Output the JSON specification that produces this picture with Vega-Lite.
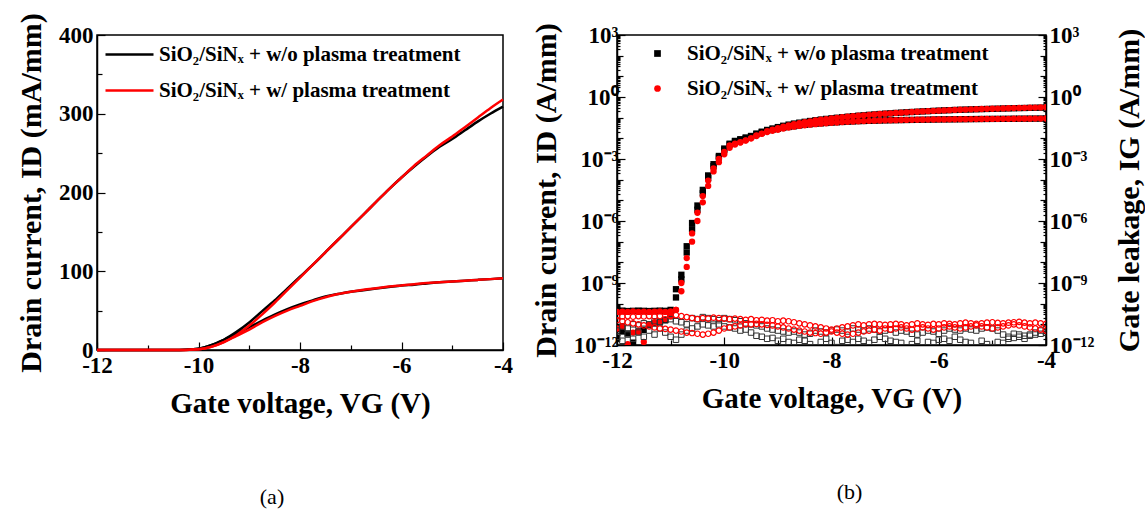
{
"$schema": "https://vega.github.io/schema/vega-lite/v6.json",
"background": "white",
"padding": {"left": 15, "top": 12, "right": 0, "bottom": 5},
"spacing": 16,
"config": {
  "font": "Liberation Serif",
  "view": {"stroke": "black", "strokeWidth": 1.5},
  "axis": {"labelFont": "Liberation Serif", "labelFontWeight": "bold", "labelFontSize": 23, "labelColor": "black", "titleFont": "Liberation Serif", "titleFontWeight": "bold", "titleFontSize": 30, "titleColor": "black", "domainColor": "black", "domainWidth": 1.5, "tickColor": "black", "tickWidth": 1.2, "grid": false, "labelFlush": false, "labelOverlap": false},
  "legend": {"labelFont": "Liberation Serif", "labelFontWeight": "bold", "labelColor": "black", "labelLimit": 500}
},
"resolve": {"scale": {"color": "independent", "shape": "independent"}, "legend": {"color": "independent", "shape": "independent"}},
"datasets": {
"a": [
{"v":-12,"s":"a","c":"H","i":0},{"v":-11,"s":"a","c":"H","i":0},{"v":-10.5,"s":"a","c":"H","i":0},{"v":-10.25,"s":"a","c":"H","i":0.3},{"v":-10,"s":"a","c":"H","i":1.5},{"v":-9.75,"s":"a","c":"H","i":6},{"v":-9.5,"s":"a","c":"H","i":13},{"v":-9.25,"s":"a","c":"H","i":23},{"v":-9,"s":"a","c":"H","i":35},{"v":-8.75,"s":"a","c":"H","i":49},{"v":-8.5,"s":"a","c":"H","i":63},{"v":-8.25,"s":"a","c":"H","i":78},{"v":-8,"s":"a","c":"H","i":93},{"v":-7.75,"s":"a","c":"H","i":108},{"v":-7.5,"s":"a","c":"H","i":124},{"v":-7.25,"s":"a","c":"H","i":140},{"v":-7,"s":"a","c":"H","i":156},{"v":-6.75,"s":"a","c":"H","i":172},{"v":-6.5,"s":"a","c":"H","i":188},{"v":-6.25,"s":"a","c":"H","i":204},{"v":-6,"s":"a","c":"H","i":219},{"v":-5.75,"s":"a","c":"H","i":233},{"v":-5.5,"s":"a","c":"H","i":246},{"v":-5.25,"s":"a","c":"H","i":258},{"v":-5,"s":"a","c":"H","i":268},{"v":-4.75,"s":"a","c":"H","i":279},{"v":-4.5,"s":"a","c":"H","i":290},{"v":-4.25,"s":"a","c":"H","i":300},{"v":-4,"s":"a","c":"H","i":309},
{"v":-12,"s":"a","c":"L","i":0},{"v":-11,"s":"a","c":"L","i":0},{"v":-10.5,"s":"a","c":"L","i":0},{"v":-10.25,"s":"a","c":"L","i":0.3},{"v":-10,"s":"a","c":"L","i":1.5},{"v":-9.75,"s":"a","c":"L","i":6},{"v":-9.5,"s":"a","c":"L","i":13},{"v":-9.25,"s":"a","c":"L","i":21},{"v":-9,"s":"a","c":"L","i":29},{"v":-8.75,"s":"a","c":"L","i":37},{"v":-8.5,"s":"a","c":"L","i":45},{"v":-8.25,"s":"a","c":"L","i":52},{"v":-8,"s":"a","c":"L","i":58},{"v":-7.75,"s":"a","c":"L","i":63},{"v":-7.5,"s":"a","c":"L","i":68},{"v":-7.25,"s":"a","c":"L","i":71},{"v":-7,"s":"a","c":"L","i":74},{"v":-6.75,"s":"a","c":"L","i":76},{"v":-6.5,"s":"a","c":"L","i":78},{"v":-6.25,"s":"a","c":"L","i":80},{"v":-6,"s":"a","c":"L","i":82},{"v":-5.75,"s":"a","c":"L","i":83},{"v":-5.5,"s":"a","c":"L","i":84.5},{"v":-5.25,"s":"a","c":"L","i":86},{"v":-5,"s":"a","c":"L","i":87},{"v":-4.75,"s":"a","c":"L","i":88},{"v":-4.5,"s":"a","c":"L","i":89},{"v":-4.25,"s":"a","c":"L","i":90},{"v":-4,"s":"a","c":"L","i":91},
{"v":-12,"s":"b","c":"H","i":0},{"v":-11,"s":"b","c":"H","i":0},{"v":-10.5,"s":"b","c":"H","i":0},{"v":-10.25,"s":"b","c":"H","i":0.1},{"v":-10,"s":"b","c":"H","i":0.8},{"v":-9.75,"s":"b","c":"H","i":4},{"v":-9.5,"s":"b","c":"H","i":10},{"v":-9.25,"s":"b","c":"H","i":19},{"v":-9,"s":"b","c":"H","i":31},{"v":-8.75,"s":"b","c":"H","i":45},{"v":-8.5,"s":"b","c":"H","i":60},{"v":-8.25,"s":"b","c":"H","i":76},{"v":-8,"s":"b","c":"H","i":92},{"v":-7.75,"s":"b","c":"H","i":108},{"v":-7.5,"s":"b","c":"H","i":124},{"v":-7.25,"s":"b","c":"H","i":140},{"v":-7,"s":"b","c":"H","i":156},{"v":-6.75,"s":"b","c":"H","i":172},{"v":-6.5,"s":"b","c":"H","i":188},{"v":-6.25,"s":"b","c":"H","i":204},{"v":-6,"s":"b","c":"H","i":219},{"v":-5.75,"s":"b","c":"H","i":234},{"v":-5.5,"s":"b","c":"H","i":247},{"v":-5.25,"s":"b","c":"H","i":260},{"v":-5,"s":"b","c":"H","i":271},{"v":-4.75,"s":"b","c":"H","i":283},{"v":-4.5,"s":"b","c":"H","i":295},{"v":-4.25,"s":"b","c":"H","i":307},{"v":-4,"s":"b","c":"H","i":318},
{"v":-12,"s":"b","c":"L","i":0},{"v":-11,"s":"b","c":"L","i":0},{"v":-10.5,"s":"b","c":"L","i":0},{"v":-10.25,"s":"b","c":"L","i":0.1},{"v":-10,"s":"b","c":"L","i":0.8},{"v":-9.75,"s":"b","c":"L","i":4},{"v":-9.5,"s":"b","c":"L","i":10},{"v":-9.25,"s":"b","c":"L","i":18},{"v":-9,"s":"b","c":"L","i":26},{"v":-8.75,"s":"b","c":"L","i":35},{"v":-8.5,"s":"b","c":"L","i":43},{"v":-8.25,"s":"b","c":"L","i":50},{"v":-8,"s":"b","c":"L","i":56},{"v":-7.75,"s":"b","c":"L","i":62},{"v":-7.5,"s":"b","c":"L","i":67},{"v":-7.25,"s":"b","c":"L","i":71},{"v":-7,"s":"b","c":"L","i":74},{"v":-6.75,"s":"b","c":"L","i":76.5},{"v":-6.5,"s":"b","c":"L","i":78.5},{"v":-6.25,"s":"b","c":"L","i":80.5},{"v":-6,"s":"b","c":"L","i":82},{"v":-5.75,"s":"b","c":"L","i":83.5},{"v":-5.5,"s":"b","c":"L","i":85},{"v":-5.25,"s":"b","c":"L","i":86},{"v":-5,"s":"b","c":"L","i":87},{"v":-4.75,"s":"b","c":"L","i":88},{"v":-4.5,"s":"b","c":"L","i":89},{"v":-4.25,"s":"b","c":"L","i":90},{"v":-4,"s":"b","c":"L","i":91}
],
"b": [
{"v":-12,"s":"a","c":"H","i":4.5e-11},{"v":-11.9,"s":"a","c":"H","i":4.6e-11},{"v":-11.8,"s":"a","c":"H","i":4.4e-11},{"v":-11.7,"s":"a","c":"H","i":4.5e-11},{"v":-11.6,"s":"a","c":"H","i":4.6e-11},{"v":-11.5,"s":"a","c":"H","i":4.5e-11},{"v":-11.4,"s":"a","c":"H","i":4.4e-11},{"v":-11.3,"s":"a","c":"H","i":4.5e-11},{"v":-11.2,"s":"a","c":"H","i":4.6e-11},{"v":-11.1,"s":"a","c":"H","i":4.5e-11},{"v":-11,"s":"a","c":"H","i":5e-11},{"v":-10.9,"s":"a","c":"H","i":5e-10},{"v":-10.8,"s":"a","c":"H","i":2.5e-9},{"v":-10.7,"s":"a","c":"H","i":6e-8},{"v":-10.6,"s":"a","c":"H","i":8e-7},{"v":-10.5,"s":"a","c":"H","i":5.6e-6},{"v":-10.4,"s":"a","c":"H","i":3.2e-5},{"v":-10.3,"s":"a","c":"H","i":1.6e-4},{"v":-10.2,"s":"a","c":"H","i":5.6e-4},{"v":-10.1,"s":"a","c":"H","i":1.4e-3},{"v":-10,"s":"a","c":"H","i":3.2e-3},{"v":-9.9,"s":"a","c":"H","i":5.5e-3},{"v":-9.8,"s":"a","c":"H","i":7.5e-3},{"v":-9.7,"s":"a","c":"H","i":9e-3},{"v":-9.6,"s":"a","c":"H","i":0.011},{"v":-9.5,"s":"a","c":"H","i":0.013},{"v":-9.4,"s":"a","c":"H","i":0.017},{"v":-9.3,"s":"a","c":"H","i":0.021},{"v":-9.2,"s":"a","c":"H","i":0.0255},{"v":-9.1,"s":"a","c":"H","i":0.03},{"v":-9,"s":"a","c":"H","i":0.035},{"v":-8.9,"s":"a","c":"H","i":0.0406},{"v":-8.8,"s":"a","c":"H","i":0.0462},{"v":-8.7,"s":"a","c":"H","i":0.0518},{"v":-8.6,"s":"a","c":"H","i":0.0574},{"v":-8.5,"s":"a","c":"H","i":0.063},{"v":-8.4,"s":"a","c":"H","i":0.069},{"v":-8.3,"s":"a","c":"H","i":0.075},{"v":-8.2,"s":"a","c":"H","i":0.081},{"v":-8.1,"s":"a","c":"H","i":0.087},{"v":-8,"s":"a","c":"H","i":0.093},{"v":-7.9,"s":"a","c":"H","i":0.099},{"v":-7.8,"s":"a","c":"H","i":0.105},{"v":-7.7,"s":"a","c":"H","i":0.111},{"v":-7.6,"s":"a","c":"H","i":0.118},{"v":-7.5,"s":"a","c":"H","i":0.124},{"v":-7.4,"s":"a","c":"H","i":0.13},{"v":-7.3,"s":"a","c":"H","i":0.137},{"v":-7.2,"s":"a","c":"H","i":0.143},{"v":-7.1,"s":"a","c":"H","i":0.15},{"v":-7,"s":"a","c":"H","i":0.156},{"v":-6.9,"s":"a","c":"H","i":0.162},{"v":-6.8,"s":"a","c":"H","i":0.169},{"v":-6.7,"s":"a","c":"H","i":0.175},{"v":-6.6,"s":"a","c":"H","i":0.182},{"v":-6.5,"s":"a","c":"H","i":0.188},{"v":-6.4,"s":"a","c":"H","i":0.194},{"v":-6.3,"s":"a","c":"H","i":0.201},{"v":-6.2,"s":"a","c":"H","i":0.207},{"v":-6.1,"s":"a","c":"H","i":0.213},{"v":-6,"s":"a","c":"H","i":0.219},{"v":-5.9,"s":"a","c":"H","i":0.225},{"v":-5.8,"s":"a","c":"H","i":0.23},{"v":-5.7,"s":"a","c":"H","i":0.236},{"v":-5.6,"s":"a","c":"H","i":0.241},{"v":-5.5,"s":"a","c":"H","i":0.246},{"v":-5.4,"s":"a","c":"H","i":0.251},{"v":-5.3,"s":"a","c":"H","i":0.256},{"v":-5.2,"s":"a","c":"H","i":0.26},{"v":-5.1,"s":"a","c":"H","i":0.264},{"v":-5,"s":"a","c":"H","i":0.268},{"v":-4.9,"s":"a","c":"H","i":0.272},{"v":-4.8,"s":"a","c":"H","i":0.277},{"v":-4.7,"s":"a","c":"H","i":0.281},{"v":-4.6,"s":"a","c":"H","i":0.286},{"v":-4.5,"s":"a","c":"H","i":0.29},{"v":-4.4,"s":"a","c":"H","i":0.294},{"v":-4.3,"s":"a","c":"H","i":0.298},{"v":-4.2,"s":"a","c":"H","i":0.302},{"v":-4.1,"s":"a","c":"H","i":0.305},{"v":-4,"s":"a","c":"H","i":0.309},
{"v":-12,"s":"a","c":"L","i":2e-12},{"v":-11.9,"s":"a","c":"L","i":4.5e-12},{"v":-11.8,"s":"a","c":"L","i":3.6e-12},{"v":-11.7,"s":"a","c":"L","i":1.3e-12},{"v":-11.6,"s":"a","c":"L","i":4.5e-12},{"v":-11.5,"s":"a","c":"L","i":5.4e-12},{"v":-11.4,"s":"a","c":"L","i":9.3e-12},{"v":-11.3,"s":"a","c":"L","i":1.1e-11},{"v":-11.2,"s":"a","c":"L","i":1.35e-11},{"v":-11.1,"s":"a","c":"L","i":1.6e-11},{"v":-11,"s":"a","c":"L","i":2.5e-11},{"v":-10.9,"s":"a","c":"L","i":2e-10},{"v":-10.8,"s":"a","c":"L","i":1.5e-9},{"v":-10.7,"s":"a","c":"L","i":3e-8},{"v":-10.6,"s":"a","c":"L","i":4e-7},{"v":-10.5,"s":"a","c":"L","i":3.5e-6},{"v":-10.4,"s":"a","c":"L","i":2.2e-5},{"v":-10.3,"s":"a","c":"L","i":1.2e-4},{"v":-10.2,"s":"a","c":"L","i":4.5e-4},{"v":-10.1,"s":"a","c":"L","i":1.2e-3},{"v":-10,"s":"a","c":"L","i":2.7e-3},{"v":-9.9,"s":"a","c":"L","i":5e-3},{"v":-9.8,"s":"a","c":"L","i":7e-3},{"v":-9.7,"s":"a","c":"L","i":8.5e-3},{"v":-9.6,"s":"a","c":"L","i":0.01},{"v":-9.5,"s":"a","c":"L","i":0.0125},{"v":-9.4,"s":"a","c":"L","i":0.016},{"v":-9.3,"s":"a","c":"L","i":0.0195},{"v":-9.2,"s":"a","c":"L","i":0.023},{"v":-9.1,"s":"a","c":"L","i":0.026},{"v":-9,"s":"a","c":"L","i":0.029},{"v":-8.9,"s":"a","c":"L","i":0.032},{"v":-8.8,"s":"a","c":"L","i":0.0355},{"v":-8.7,"s":"a","c":"L","i":0.0385},{"v":-8.6,"s":"a","c":"L","i":0.042},{"v":-8.5,"s":"a","c":"L","i":0.045},{"v":-8.4,"s":"a","c":"L","i":0.048},{"v":-8.3,"s":"a","c":"L","i":0.0505},{"v":-8.2,"s":"a","c":"L","i":0.053},{"v":-8.1,"s":"a","c":"L","i":0.0555},{"v":-8,"s":"a","c":"L","i":0.058},{"v":-7.9,"s":"a","c":"L","i":0.06},{"v":-7.8,"s":"a","c":"L","i":0.062},{"v":-7.7,"s":"a","c":"L","i":0.064},{"v":-7.6,"s":"a","c":"L","i":0.066},{"v":-7.5,"s":"a","c":"L","i":0.068},{"v":-7.4,"s":"a","c":"L","i":0.069},{"v":-7.3,"s":"a","c":"L","i":0.0705},{"v":-7.2,"s":"a","c":"L","i":0.0715},{"v":-7.1,"s":"a","c":"L","i":0.073},{"v":-7,"s":"a","c":"L","i":0.074},{"v":-6.9,"s":"a","c":"L","i":0.075},{"v":-6.8,"s":"a","c":"L","i":0.0757},{"v":-6.7,"s":"a","c":"L","i":0.0765},{"v":-6.6,"s":"a","c":"L","i":0.0772},{"v":-6.5,"s":"a","c":"L","i":0.078},{"v":-6.4,"s":"a","c":"L","i":0.0788},{"v":-6.3,"s":"a","c":"L","i":0.0796},{"v":-6.2,"s":"a","c":"L","i":0.0804},{"v":-6.1,"s":"a","c":"L","i":0.0812},{"v":-6,"s":"a","c":"L","i":0.082},{"v":-5.9,"s":"a","c":"L","i":0.0824},{"v":-5.8,"s":"a","c":"L","i":0.0828},{"v":-5.7,"s":"a","c":"L","i":0.0833},{"v":-5.6,"s":"a","c":"L","i":0.0839},{"v":-5.5,"s":"a","c":"L","i":0.0845},{"v":-5.4,"s":"a","c":"L","i":0.0851},{"v":-5.3,"s":"a","c":"L","i":0.0857},{"v":-5.2,"s":"a","c":"L","i":0.0862},{"v":-5.1,"s":"a","c":"L","i":0.0866},{"v":-5,"s":"a","c":"L","i":0.087},{"v":-4.9,"s":"a","c":"L","i":0.0874},{"v":-4.8,"s":"a","c":"L","i":0.0878},{"v":-4.7,"s":"a","c":"L","i":0.0882},{"v":-4.6,"s":"a","c":"L","i":0.0886},{"v":-4.5,"s":"a","c":"L","i":0.089},{"v":-4.4,"s":"a","c":"L","i":0.0894},{"v":-4.3,"s":"a","c":"L","i":0.0898},{"v":-4.2,"s":"a","c":"L","i":0.0902},{"v":-4.1,"s":"a","c":"L","i":0.0906},{"v":-4,"s":"a","c":"L","i":0.091},
{"v":-12,"s":"b","c":"H","i":4e-11},{"v":-11.9,"s":"b","c":"H","i":4.1e-11},{"v":-11.8,"s":"b","c":"H","i":4e-11},{"v":-11.7,"s":"b","c":"H","i":4.2e-11},{"v":-11.6,"s":"b","c":"H","i":4e-11},{"v":-11.5,"s":"b","c":"H","i":4.1e-11},{"v":-11.4,"s":"b","c":"H","i":4e-11},{"v":-11.3,"s":"b","c":"H","i":4.1e-11},{"v":-11.2,"s":"b","c":"H","i":4.2e-11},{"v":-11.1,"s":"b","c":"H","i":4e-11},{"v":-11,"s":"b","c":"H","i":4.2e-11},{"v":-10.9,"s":"b","c":"H","i":5e-11},{"v":-10.8,"s":"b","c":"H","i":1e-9},{"v":-10.7,"s":"b","c":"H","i":1.6e-8},{"v":-10.6,"s":"b","c":"H","i":2.5e-7},{"v":-10.5,"s":"b","c":"H","i":2.5e-6},{"v":-10.4,"s":"b","c":"H","i":1.6e-5},{"v":-10.3,"s":"b","c":"H","i":9e-5},{"v":-10.2,"s":"b","c":"H","i":3.5e-4},{"v":-10.1,"s":"b","c":"H","i":1e-3},{"v":-10,"s":"b","c":"H","i":2.2e-3},{"v":-9.9,"s":"b","c":"H","i":4.5e-3},{"v":-9.8,"s":"b","c":"H","i":5.5e-3},{"v":-9.7,"s":"b","c":"H","i":6.5e-3},{"v":-9.6,"s":"b","c":"H","i":8e-3},{"v":-9.5,"s":"b","c":"H","i":0.01},{"v":-9.4,"s":"b","c":"H","i":0.014},{"v":-9.3,"s":"b","c":"H","i":0.017},{"v":-9.2,"s":"b","c":"H","i":0.022},{"v":-9.1,"s":"b","c":"H","i":0.026},{"v":-9,"s":"b","c":"H","i":0.031},{"v":-8.9,"s":"b","c":"H","i":0.0366},{"v":-8.8,"s":"b","c":"H","i":0.0422},{"v":-8.7,"s":"b","c":"H","i":0.048},{"v":-8.6,"s":"b","c":"H","i":0.054},{"v":-8.5,"s":"b","c":"H","i":0.06},{"v":-8.4,"s":"b","c":"H","i":0.0664},{"v":-8.3,"s":"b","c":"H","i":0.0728},{"v":-8.2,"s":"b","c":"H","i":0.0792},{"v":-8.1,"s":"b","c":"H","i":0.0856},{"v":-8,"s":"b","c":"H","i":0.092},{"v":-7.9,"s":"b","c":"H","i":0.0984},{"v":-7.8,"s":"b","c":"H","i":0.1048},{"v":-7.7,"s":"b","c":"H","i":0.1112},{"v":-7.6,"s":"b","c":"H","i":0.1176},{"v":-7.5,"s":"b","c":"H","i":0.124},{"v":-7.4,"s":"b","c":"H","i":0.13},{"v":-7.3,"s":"b","c":"H","i":0.137},{"v":-7.2,"s":"b","c":"H","i":0.143},{"v":-7.1,"s":"b","c":"H","i":0.15},{"v":-7,"s":"b","c":"H","i":0.156},{"v":-6.9,"s":"b","c":"H","i":0.162},{"v":-6.8,"s":"b","c":"H","i":0.169},{"v":-6.7,"s":"b","c":"H","i":0.175},{"v":-6.6,"s":"b","c":"H","i":0.182},{"v":-6.5,"s":"b","c":"H","i":0.188},{"v":-6.4,"s":"b","c":"H","i":0.194},{"v":-6.3,"s":"b","c":"H","i":0.201},{"v":-6.2,"s":"b","c":"H","i":0.207},{"v":-6.1,"s":"b","c":"H","i":0.213},{"v":-6,"s":"b","c":"H","i":0.219},{"v":-5.9,"s":"b","c":"H","i":0.225},{"v":-5.8,"s":"b","c":"H","i":0.231},{"v":-5.7,"s":"b","c":"H","i":0.2366},{"v":-5.6,"s":"b","c":"H","i":0.2418},{"v":-5.5,"s":"b","c":"H","i":0.247},{"v":-5.4,"s":"b","c":"H","i":0.2522},{"v":-5.3,"s":"b","c":"H","i":0.2574},{"v":-5.2,"s":"b","c":"H","i":0.2622},{"v":-5.1,"s":"b","c":"H","i":0.2666},{"v":-5,"s":"b","c":"H","i":0.271},{"v":-4.9,"s":"b","c":"H","i":0.2758},{"v":-4.8,"s":"b","c":"H","i":0.2806},{"v":-4.7,"s":"b","c":"H","i":0.2854},{"v":-4.6,"s":"b","c":"H","i":0.2902},{"v":-4.5,"s":"b","c":"H","i":0.295},{"v":-4.4,"s":"b","c":"H","i":0.2998},{"v":-4.3,"s":"b","c":"H","i":0.3046},{"v":-4.2,"s":"b","c":"H","i":0.309},{"v":-4.1,"s":"b","c":"H","i":0.3134},{"v":-4,"s":"b","c":"H","i":0.318},
{"v":-12,"s":"b","c":"L","i":6.3e-12},{"v":-11.9,"s":"b","c":"L","i":7.9e-12},{"v":-11.8,"s":"b","c":"L","i":1.1e-12},{"v":-11.7,"s":"b","c":"L","i":4e-12},{"v":-11.6,"s":"b","c":"L","i":4.5e-12},{"v":-11.5,"s":"b","c":"L","i":1.4e-12},{"v":-11.4,"s":"b","c":"L","i":1e-11},{"v":-11.3,"s":"b","c":"L","i":1.26e-11},{"v":-11.2,"s":"b","c":"L","i":1.4e-11},{"v":-11.1,"s":"b","c":"L","i":1.8e-11},{"v":-11,"s":"b","c":"L","i":2.5e-11},{"v":-10.9,"s":"b","c":"L","i":5e-11},{"v":-10.8,"s":"b","c":"L","i":4e-10},{"v":-10.7,"s":"b","c":"L","i":6e-9},{"v":-10.6,"s":"b","c":"L","i":1e-7},{"v":-10.5,"s":"b","c":"L","i":1e-6},{"v":-10.4,"s":"b","c":"L","i":8e-6},{"v":-10.3,"s":"b","c":"L","i":5e-5},{"v":-10.2,"s":"b","c":"L","i":2.5e-4},{"v":-10.1,"s":"b","c":"L","i":7e-4},{"v":-10,"s":"b","c":"L","i":1.7e-3},{"v":-9.9,"s":"b","c":"L","i":3.5e-3},{"v":-9.8,"s":"b","c":"L","i":5e-3},{"v":-9.7,"s":"b","c":"L","i":6.2e-3},{"v":-9.6,"s":"b","c":"L","i":7.8e-3},{"v":-9.5,"s":"b","c":"L","i":0.01},{"v":-9.4,"s":"b","c":"L","i":0.013},{"v":-9.3,"s":"b","c":"L","i":0.0165},{"v":-9.2,"s":"b","c":"L","i":0.02},{"v":-9.1,"s":"b","c":"L","i":0.023},{"v":-9,"s":"b","c":"L","i":0.026},{"v":-8.9,"s":"b","c":"L","i":0.0295},{"v":-8.8,"s":"b","c":"L","i":0.033},{"v":-8.7,"s":"b","c":"L","i":0.0365},{"v":-8.6,"s":"b","c":"L","i":0.04},{"v":-8.5,"s":"b","c":"L","i":0.043},{"v":-8.4,"s":"b","c":"L","i":0.046},{"v":-8.3,"s":"b","c":"L","i":0.0485},{"v":-8.2,"s":"b","c":"L","i":0.051},{"v":-8.1,"s":"b","c":"L","i":0.0535},{"v":-8,"s":"b","c":"L","i":0.056},{"v":-7.9,"s":"b","c":"L","i":0.0585},{"v":-7.8,"s":"b","c":"L","i":0.061},{"v":-7.7,"s":"b","c":"L","i":0.063},{"v":-7.6,"s":"b","c":"L","i":0.065},{"v":-7.5,"s":"b","c":"L","i":0.067},{"v":-7.4,"s":"b","c":"L","i":0.0685},{"v":-7.3,"s":"b","c":"L","i":0.07},{"v":-7.2,"s":"b","c":"L","i":0.0715},{"v":-7.1,"s":"b","c":"L","i":0.0728},{"v":-7,"s":"b","c":"L","i":0.074},{"v":-6.9,"s":"b","c":"L","i":0.075},{"v":-6.8,"s":"b","c":"L","i":0.076},{"v":-6.7,"s":"b","c":"L","i":0.077},{"v":-6.6,"s":"b","c":"L","i":0.0777},{"v":-6.5,"s":"b","c":"L","i":0.0785},{"v":-6.4,"s":"b","c":"L","i":0.0793},{"v":-6.3,"s":"b","c":"L","i":0.08},{"v":-6.2,"s":"b","c":"L","i":0.0808},{"v":-6.1,"s":"b","c":"L","i":0.0814},{"v":-6,"s":"b","c":"L","i":0.082},{"v":-5.9,"s":"b","c":"L","i":0.0826},{"v":-5.8,"s":"b","c":"L","i":0.0832},{"v":-5.7,"s":"b","c":"L","i":0.0838},{"v":-5.6,"s":"b","c":"L","i":0.0844},{"v":-5.5,"s":"b","c":"L","i":0.085},{"v":-5.4,"s":"b","c":"L","i":0.0854},{"v":-5.3,"s":"b","c":"L","i":0.0858},{"v":-5.2,"s":"b","c":"L","i":0.0862},{"v":-5.1,"s":"b","c":"L","i":0.0866},{"v":-5,"s":"b","c":"L","i":0.087},{"v":-4.9,"s":"b","c":"L","i":0.0874},{"v":-4.8,"s":"b","c":"L","i":0.0878},{"v":-4.7,"s":"b","c":"L","i":0.0882},{"v":-4.6,"s":"b","c":"L","i":0.0886},{"v":-4.5,"s":"b","c":"L","i":0.089},{"v":-4.4,"s":"b","c":"L","i":0.0894},{"v":-4.3,"s":"b","c":"L","i":0.0898},{"v":-4.2,"s":"b","c":"L","i":0.0902},{"v":-4.1,"s":"b","c":"L","i":0.0906},{"v":-4,"s":"b","c":"L","i":0.091}
],
"g": [
{"v":-12,"s":"a","c":"H","g":5e-12},{"v":-11.9,"s":"a","c":"H","g":7.9e-12},{"v":-11.8,"s":"a","c":"H","g":6.3e-12},{"v":-11.7,"s":"a","c":"H","g":1e-11},{"v":-11.6,"s":"a","c":"H","g":8.9e-12},{"v":-11.5,"s":"a","c":"H","g":1.12e-11},{"v":-11.4,"s":"a","c":"H","g":1e-11},{"v":-11.3,"s":"a","c":"H","g":1.41e-11},{"v":-11.2,"s":"a","c":"H","g":1.26e-11},{"v":-11.1,"s":"a","c":"H","g":1.58e-11},{"v":-11,"s":"a","c":"H","g":1.78e-11},{"v":-10.9,"s":"a","c":"H","g":1.41e-11},{"v":-10.8,"s":"a","c":"H","g":1.26e-11},{"v":-10.7,"s":"a","c":"H","g":1e-11},{"v":-10.6,"s":"a","c":"H","g":2e-11},{"v":-10.5,"s":"a","c":"H","g":1.78e-11},{"v":-10.4,"s":"a","c":"H","g":2.24e-11},{"v":-10.3,"s":"a","c":"H","g":2e-11},{"v":-10.2,"s":"a","c":"H","g":1.78e-11},{"v":-10.1,"s":"a","c":"H","g":1.58e-11},{"v":-10,"s":"a","c":"H","g":2e-11},{"v":-9.9,"s":"a","c":"H","g":1.78e-11},{"v":-9.8,"s":"a","c":"H","g":1.58e-11},{"v":-9.7,"s":"a","c":"H","g":1.41e-11},{"v":-9.6,"s":"a","c":"H","g":1.12e-11},{"v":-9.5,"s":"a","c":"H","g":1e-11},{"v":-9.4,"s":"a","c":"H","g":8.9e-12},{"v":-9.3,"s":"a","c":"H","g":7.9e-12},{"v":-9.2,"s":"a","c":"H","g":6.3e-12},{"v":-9.1,"s":"a","c":"H","g":5.6e-12},{"v":-9,"s":"a","c":"H","g":5e-12},{"v":-8.9,"s":"a","c":"H","g":4.5e-12},{"v":-8.8,"s":"a","c":"H","g":4e-12},{"v":-8.7,"s":"a","c":"H","g":4.5e-12},{"v":-8.6,"s":"a","c":"H","g":4e-12},{"v":-8.5,"s":"a","c":"H","g":3.2e-12},{"v":-8.4,"s":"a","c":"H","g":3.5e-12},{"v":-8.3,"s":"a","c":"H","g":5e-12},{"v":-8.2,"s":"a","c":"H","g":4.5e-12},{"v":-8.1,"s":"a","c":"H","g":4e-12},{"v":-8,"s":"a","c":"H","g":5e-12},{"v":-7.9,"s":"a","c":"H","g":5.6e-12},{"v":-7.8,"s":"a","c":"H","g":5e-12},{"v":-7.7,"s":"a","c":"H","g":4.5e-12},{"v":-7.6,"s":"a","c":"H","g":6.3e-12},{"v":-7.5,"s":"a","c":"H","g":5.6e-12},{"v":-7.4,"s":"a","c":"H","g":5e-12},{"v":-7.3,"s":"a","c":"H","g":6.3e-12},{"v":-7.2,"s":"a","c":"H","g":5.6e-12},{"v":-7.1,"s":"a","c":"H","g":4.5e-12},{"v":-7,"s":"a","c":"H","g":5e-12},{"v":-6.9,"s":"a","c":"H","g":5.6e-12},{"v":-6.8,"s":"a","c":"H","g":4e-12},{"v":-6.7,"s":"a","c":"H","g":5e-12},{"v":-6.6,"s":"a","c":"H","g":4.5e-12},{"v":-6.5,"s":"a","c":"H","g":3.5e-12},{"v":-6.4,"s":"a","c":"H","g":3.2e-12},{"v":-6.3,"s":"a","c":"H","g":4e-12},{"v":-6.2,"s":"a","c":"H","g":5e-12},{"v":-6.1,"s":"a","c":"H","g":4.5e-12},{"v":-6,"s":"a","c":"H","g":3.5e-12},{"v":-5.9,"s":"a","c":"H","g":5e-12},{"v":-5.8,"s":"a","c":"H","g":6.3e-12},{"v":-5.7,"s":"a","c":"H","g":5.6e-12},{"v":-5.6,"s":"a","c":"H","g":5e-12},{"v":-5.5,"s":"a","c":"H","g":6.3e-12},{"v":-5.4,"s":"a","c":"H","g":5.6e-12},{"v":-5.3,"s":"a","c":"H","g":5e-12},{"v":-5.2,"s":"a","c":"H","g":6.3e-12},{"v":-5.1,"s":"a","c":"H","g":7.1e-12},{"v":-5,"s":"a","c":"H","g":6.3e-12},{"v":-4.9,"s":"a","c":"H","g":5e-12},{"v":-4.8,"s":"a","c":"H","g":3.2e-12},{"v":-4.7,"s":"a","c":"H","g":2.5e-12},{"v":-4.6,"s":"a","c":"H","g":3.5e-12},{"v":-4.5,"s":"a","c":"H","g":3.2e-12},{"v":-4.4,"s":"a","c":"H","g":2.8e-12},{"v":-4.3,"s":"a","c":"H","g":3.2e-12},{"v":-4.2,"s":"a","c":"H","g":4e-12},{"v":-4.1,"s":"a","c":"H","g":5e-12},{"v":-4,"s":"a","c":"H","g":6.3e-12},
{"v":-12,"s":"a","c":"L","g":2.5e-12},{"v":-11.9,"s":"a","c":"L","g":1.6e-12},{"v":-11.8,"s":"a","c":"L","g":3.2e-12},{"v":-11.7,"s":"a","c":"L","g":2e-12},{"v":-11.6,"s":"a","c":"L","g":4e-12},{"v":-11.5,"s":"a","c":"L","g":2.5e-12},{"v":-11.4,"s":"a","c":"L","g":5e-12},{"v":-11.3,"s":"a","c":"L","g":3.2e-12},{"v":-11.2,"s":"a","c":"L","g":6.3e-12},{"v":-11.1,"s":"a","c":"L","g":4e-12},{"v":-11,"s":"a","c":"L","g":2.5e-12},{"v":-10.9,"s":"a","c":"L","g":1.8e-12},{"v":-10.8,"s":"a","c":"L","g":3.2e-12},{"v":-10.7,"s":"a","c":"L","g":5e-12},{"v":-10.6,"s":"a","c":"L","g":6.3e-12},{"v":-10.5,"s":"a","c":"L","g":7.9e-12},{"v":-10.4,"s":"a","c":"L","g":1e-11},{"v":-10.3,"s":"a","c":"L","g":8.9e-12},{"v":-10.2,"s":"a","c":"L","g":7.9e-12},{"v":-10.1,"s":"a","c":"L","g":1e-11},{"v":-10,"s":"a","c":"L","g":7.9e-12},{"v":-9.9,"s":"a","c":"L","g":7.1e-12},{"v":-9.8,"s":"a","c":"L","g":6.3e-12},{"v":-9.7,"s":"a","c":"L","g":5e-12},{"v":-9.6,"s":"a","c":"L","g":5.6e-12},{"v":-9.5,"s":"a","c":"L","g":4e-12},{"v":-9.4,"s":"a","c":"L","g":2.8e-12},{"v":-9.3,"s":"a","c":"L","g":2.5e-12},{"v":-9.2,"s":"a","c":"L","g":2e-12},{"v":-9.1,"s":"a","c":"L","g":2.2e-12},{"v":-9,"s":"a","c":"L","g":1.6e-12},{"v":-8.9,"s":"a","c":"L","g":2e-12},{"v":-8.8,"s":"a","c":"L","g":1.4e-12},{"v":-8.7,"s":"a","c":"L","g":1.26e-12},{"v":-8.6,"s":"a","c":"L","g":1.8e-12},{"v":-8.5,"s":"a","c":"L","g":1.6e-12},{"v":-8.4,"s":"a","c":"L","g":1.1e-12},{"v":-8.3,"s":"a","c":"L","g":6.3e-13},{"v":-8.2,"s":"a","c":"L","g":1.4e-12},{"v":-8.1,"s":"a","c":"L","g":2e-12},{"v":-8,"s":"a","c":"L","g":1.26e-12},{"v":-7.9,"s":"a","c":"L","g":7.9e-13},{"v":-7.8,"s":"a","c":"L","g":1.6e-12},{"v":-7.7,"s":"a","c":"L","g":1.8e-12},{"v":-7.6,"s":"a","c":"L","g":1.4e-12},{"v":-7.5,"s":"a","c":"L","g":2e-12},{"v":-7.4,"s":"a","c":"L","g":1.6e-12},{"v":-7.3,"s":"a","c":"L","g":1.26e-12},{"v":-7.2,"s":"a","c":"L","g":1.8e-12},{"v":-7.1,"s":"a","c":"L","g":2.5e-12},{"v":-7,"s":"a","c":"L","g":2e-12},{"v":-6.9,"s":"a","c":"L","g":1.6e-12},{"v":-6.8,"s":"a","c":"L","g":1.4e-12},{"v":-6.7,"s":"a","c":"L","g":1.26e-12},{"v":-6.6,"s":"a","c":"L","g":7.1e-13},{"v":-6.5,"s":"a","c":"L","g":1.1e-12},{"v":-6.4,"s":"a","c":"L","g":1.6e-12},{"v":-6.3,"s":"a","c":"L","g":5e-13},{"v":-6.2,"s":"a","c":"L","g":1.4e-12},{"v":-6.1,"s":"a","c":"L","g":1.26e-12},{"v":-6,"s":"a","c":"L","g":1.8e-12},{"v":-5.9,"s":"a","c":"L","g":2e-12},{"v":-5.8,"s":"a","c":"L","g":1.6e-12},{"v":-5.7,"s":"a","c":"L","g":2.5e-12},{"v":-5.6,"s":"a","c":"L","g":1.8e-12},{"v":-5.5,"s":"a","c":"L","g":1.4e-12},{"v":-5.4,"s":"a","c":"L","g":1.26e-12},{"v":-5.3,"s":"a","c":"L","g":6.3e-13},{"v":-5.2,"s":"a","c":"L","g":1.6e-12},{"v":-5.1,"s":"a","c":"L","g":1.1e-12},{"v":-5,"s":"a","c":"L","g":7.9e-13},{"v":-4.9,"s":"a","c":"L","g":1.4e-12},{"v":-4.8,"s":"a","c":"L","g":1.26e-12},{"v":-4.7,"s":"a","c":"L","g":2e-12},{"v":-4.6,"s":"a","c":"L","g":2.2e-12},{"v":-4.5,"s":"a","c":"L","g":2.5e-12},{"v":-4.4,"s":"a","c":"L","g":2e-12},{"v":-4.3,"s":"a","c":"L","g":2.8e-12},{"v":-4.2,"s":"a","c":"L","g":3.2e-12},{"v":-4.1,"s":"a","c":"L","g":3.5e-12},{"v":-4,"s":"a","c":"L","g":4e-12},
{"v":-12,"s":"b","c":"H","g":2.5e-11},{"v":-11.9,"s":"b","c":"H","g":2.4e-11},{"v":-11.8,"s":"b","c":"H","g":2.5e-11},{"v":-11.7,"s":"b","c":"H","g":2.35e-11},{"v":-11.6,"s":"b","c":"H","g":2.5e-11},{"v":-11.5,"s":"b","c":"H","g":2.4e-11},{"v":-11.4,"s":"b","c":"H","g":2.5e-11},{"v":-11.3,"s":"b","c":"H","g":2.4e-11},{"v":-11.2,"s":"b","c":"H","g":2.5e-11},{"v":-11.1,"s":"b","c":"H","g":2.6e-11},{"v":-11,"s":"b","c":"H","g":2.5e-11},{"v":-10.9,"s":"b","c":"H","g":2.8e-11},{"v":-10.8,"s":"b","c":"H","g":2.5e-11},{"v":-10.7,"s":"b","c":"H","g":2.24e-11},{"v":-10.6,"s":"b","c":"H","g":2e-11},{"v":-10.5,"s":"b","c":"H","g":1.78e-11},{"v":-10.4,"s":"b","c":"H","g":2e-11},{"v":-10.3,"s":"b","c":"H","g":1.9e-11},{"v":-10.2,"s":"b","c":"H","g":2.1e-11},{"v":-10.1,"s":"b","c":"H","g":2e-11},{"v":-10,"s":"b","c":"H","g":1.9e-11},{"v":-9.9,"s":"b","c":"H","g":1.78e-11},{"v":-9.8,"s":"b","c":"H","g":1.9e-11},{"v":-9.7,"s":"b","c":"H","g":1.78e-11},{"v":-9.6,"s":"b","c":"H","g":1.66e-11},{"v":-9.5,"s":"b","c":"H","g":1.78e-11},{"v":-9.4,"s":"b","c":"H","g":1.58e-11},{"v":-9.3,"s":"b","c":"H","g":1.66e-11},{"v":-9.2,"s":"b","c":"H","g":1.5e-11},{"v":-9.1,"s":"b","c":"H","g":1.58e-11},{"v":-9,"s":"b","c":"H","g":1.41e-11},{"v":-8.9,"s":"b","c":"H","g":1.5e-11},{"v":-8.8,"s":"b","c":"H","g":1.41e-11},{"v":-8.7,"s":"b","c":"H","g":1.26e-11},{"v":-8.6,"s":"b","c":"H","g":1.12e-11},{"v":-8.5,"s":"b","c":"H","g":1e-11},{"v":-8.4,"s":"b","c":"H","g":8.9e-12},{"v":-8.3,"s":"b","c":"H","g":7.9e-12},{"v":-8.2,"s":"b","c":"H","g":7.1e-12},{"v":-8.1,"s":"b","c":"H","g":6.3e-12},{"v":-8,"s":"b","c":"H","g":5.6e-12},{"v":-7.9,"s":"b","c":"H","g":6.3e-12},{"v":-7.8,"s":"b","c":"H","g":7.1e-12},{"v":-7.7,"s":"b","c":"H","g":7.9e-12},{"v":-7.6,"s":"b","c":"H","g":8.9e-12},{"v":-7.5,"s":"b","c":"H","g":1e-11},{"v":-7.4,"s":"b","c":"H","g":8.9e-12},{"v":-7.3,"s":"b","c":"H","g":1e-11},{"v":-7.2,"s":"b","c":"H","g":1.05e-11},{"v":-7.1,"s":"b","c":"H","g":1e-11},{"v":-7,"s":"b","c":"H","g":9.5e-12},{"v":-6.9,"s":"b","c":"H","g":1e-11},{"v":-6.8,"s":"b","c":"H","g":1.05e-11},{"v":-6.7,"s":"b","c":"H","g":1e-11},{"v":-6.6,"s":"b","c":"H","g":8.9e-12},{"v":-6.5,"s":"b","c":"H","g":1e-11},{"v":-6.4,"s":"b","c":"H","g":1.12e-11},{"v":-6.3,"s":"b","c":"H","g":1e-11},{"v":-6.2,"s":"b","c":"H","g":9.5e-12},{"v":-6.1,"s":"b","c":"H","g":1.05e-11},{"v":-6,"s":"b","c":"H","g":1e-11},{"v":-5.9,"s":"b","c":"H","g":1.12e-11},{"v":-5.8,"s":"b","c":"H","g":1.05e-11},{"v":-5.7,"s":"b","c":"H","g":1e-11},{"v":-5.6,"s":"b","c":"H","g":1.12e-11},{"v":-5.5,"s":"b","c":"H","g":1.2e-11},{"v":-5.4,"s":"b","c":"H","g":1.12e-11},{"v":-5.3,"s":"b","c":"H","g":1.05e-11},{"v":-5.2,"s":"b","c":"H","g":1.12e-11},{"v":-5.1,"s":"b","c":"H","g":1.2e-11},{"v":-5,"s":"b","c":"H","g":1.26e-11},{"v":-4.9,"s":"b","c":"H","g":1.17e-11},{"v":-4.8,"s":"b","c":"H","g":1.12e-11},{"v":-4.7,"s":"b","c":"H","g":1.2e-11},{"v":-4.6,"s":"b","c":"H","g":1.26e-11},{"v":-4.5,"s":"b","c":"H","g":1.32e-11},{"v":-4.4,"s":"b","c":"H","g":1.2e-11},{"v":-4.3,"s":"b","c":"H","g":1.12e-11},{"v":-4.2,"s":"b","c":"H","g":1.2e-11},{"v":-4.1,"s":"b","c":"H","g":1.12e-11},{"v":-4,"s":"b","c":"H","g":1.05e-11},
{"v":-12,"s":"b","c":"L","g":1.58e-11},{"v":-11.9,"s":"b","c":"L","g":1.41e-11},{"v":-11.8,"s":"b","c":"L","g":1.26e-11},{"v":-11.7,"s":"b","c":"L","g":1.12e-11},{"v":-11.6,"s":"b","c":"L","g":1e-11},{"v":-11.5,"s":"b","c":"L","g":8.9e-12},{"v":-11.4,"s":"b","c":"L","g":7.9e-12},{"v":-11.3,"s":"b","c":"L","g":7.1e-12},{"v":-11.2,"s":"b","c":"L","g":6.3e-12},{"v":-11.1,"s":"b","c":"L","g":6e-12},{"v":-11,"s":"b","c":"L","g":5.6e-12},{"v":-10.9,"s":"b","c":"L","g":5e-12},{"v":-10.8,"s":"b","c":"L","g":4.5e-12},{"v":-10.7,"s":"b","c":"L","g":4e-12},{"v":-10.6,"s":"b","c":"L","g":3.8e-12},{"v":-10.5,"s":"b","c":"L","g":3.5e-12},{"v":-10.4,"s":"b","c":"L","g":3.2e-12},{"v":-10.3,"s":"b","c":"L","g":3.5e-12},{"v":-10.2,"s":"b","c":"L","g":4e-12},{"v":-10.1,"s":"b","c":"L","g":5e-12},{"v":-10,"s":"b","c":"L","g":6.3e-12},{"v":-9.9,"s":"b","c":"L","g":7.1e-12},{"v":-9.8,"s":"b","c":"L","g":7.9e-12},{"v":-9.7,"s":"b","c":"L","g":8.9e-12},{"v":-9.6,"s":"b","c":"L","g":1e-11},{"v":-9.5,"s":"b","c":"L","g":1e-11},{"v":-9.4,"s":"b","c":"L","g":1.05e-11},{"v":-9.3,"s":"b","c":"L","g":1e-11},{"v":-9.2,"s":"b","c":"L","g":9.5e-12},{"v":-9.1,"s":"b","c":"L","g":8.9e-12},{"v":-9,"s":"b","c":"L","g":7.9e-12},{"v":-8.9,"s":"b","c":"L","g":7.1e-12},{"v":-8.8,"s":"b","c":"L","g":6.3e-12},{"v":-8.7,"s":"b","c":"L","g":5.6e-12},{"v":-8.6,"s":"b","c":"L","g":5e-12},{"v":-8.5,"s":"b","c":"L","g":4.5e-12},{"v":-8.4,"s":"b","c":"L","g":4e-12},{"v":-8.3,"s":"b","c":"L","g":3.8e-12},{"v":-8.2,"s":"b","c":"L","g":3.5e-12},{"v":-8.1,"s":"b","c":"L","g":4e-12},{"v":-8,"s":"b","c":"L","g":4.5e-12},{"v":-7.9,"s":"b","c":"L","g":4e-12},{"v":-7.8,"s":"b","c":"L","g":3.5e-12},{"v":-7.7,"s":"b","c":"L","g":3.2e-12},{"v":-7.6,"s":"b","c":"L","g":3.5e-12},{"v":-7.5,"s":"b","c":"L","g":4e-12},{"v":-7.4,"s":"b","c":"L","g":4.5e-12},{"v":-7.3,"s":"b","c":"L","g":5e-12},{"v":-7.2,"s":"b","c":"L","g":5.6e-12},{"v":-7.1,"s":"b","c":"L","g":5e-12},{"v":-7,"s":"b","c":"L","g":6.3e-12},{"v":-6.9,"s":"b","c":"L","g":5.6e-12},{"v":-6.8,"s":"b","c":"L","g":6.3e-12},{"v":-6.7,"s":"b","c":"L","g":7.1e-12},{"v":-6.6,"s":"b","c":"L","g":6.3e-12},{"v":-6.5,"s":"b","c":"L","g":5.6e-12},{"v":-6.4,"s":"b","c":"L","g":6.3e-12},{"v":-6.3,"s":"b","c":"L","g":7.1e-12},{"v":-6.2,"s":"b","c":"L","g":6.3e-12},{"v":-6.1,"s":"b","c":"L","g":5.6e-12},{"v":-6,"s":"b","c":"L","g":6.3e-12},{"v":-5.9,"s":"b","c":"L","g":7.1e-12},{"v":-5.8,"s":"b","c":"L","g":7.9e-12},{"v":-5.7,"s":"b","c":"L","g":7.1e-12},{"v":-5.6,"s":"b","c":"L","g":6.3e-12},{"v":-5.5,"s":"b","c":"L","g":7.1e-12},{"v":-5.4,"s":"b","c":"L","g":7.9e-12},{"v":-5.3,"s":"b","c":"L","g":8.9e-12},{"v":-5.2,"s":"b","c":"L","g":7.9e-12},{"v":-5.1,"s":"b","c":"L","g":7.1e-12},{"v":-5,"s":"b","c":"L","g":6.3e-12},{"v":-4.9,"s":"b","c":"L","g":7.1e-12},{"v":-4.8,"s":"b","c":"L","g":7.9e-12},{"v":-4.7,"s":"b","c":"L","g":8.9e-12},{"v":-4.6,"s":"b","c":"L","g":1e-11},{"v":-4.5,"s":"b","c":"L","g":8.9e-12},{"v":-4.4,"s":"b","c":"L","g":7.9e-12},{"v":-4.3,"s":"b","c":"L","g":7.1e-12},{"v":-4.2,"s":"b","c":"L","g":6.3e-12},{"v":-4.1,"s":"b","c":"L","g":5.6e-12},{"v":-4,"s":"b","c":"L","g":5e-12}
]
},
"hconcat": [
{
  "width": 406, "height": 315,
  "data": {"name": "a"},
  "title": {"text": "(a)", "orient": "bottom", "font": "Liberation Serif", "fontWeight": "normal", "fontSize": 22, "color": "black", "offset": 69, "dx": -28},
  "mark": {"type": "line", "strokeWidth": 2.5, "interpolate": "monotone"},
  "encoding": {
    "x": {"field": "v", "type": "quantitative", "scale": {"domain": [-12, -4], "nice": false, "zero": false},
      "axis": {"title": "Gate voltage, VG (V)", "titleFontSize": 29, "values": [-12,-11,-10,-9,-8,-7,-6,-5,-4], "labelExpr": "datum.value % 2 === 0 ? '-' + abs(datum.value) : ''", "tickSize": {"condition": {"test": "datum.value % 2 === 0", "value": -8}, "value": -5}, "labelPadding": 12, "titlePadding": 9}},
    "y": {"field": "i", "type": "quantitative", "scale": {"domain": [0, 400], "nice": false},
      "axis": {"title": "Drain current, ID (mA/mm)", "values": [0,50,100,150,200,250,300,350,400], "labelExpr": "datum.value % 100 === 0 ? datum.label : ''", "tickSize": {"condition": {"test": "datum.value % 100 === 0", "value": -8}, "value": -5}, "labelPadding": 12, "titlePadding": 12}},
    "color": {"field": "s", "type": "nominal", "scale": {"domain": ["a", "b"], "range": ["#000000", "#ff0000"]},
      "legend": {"orient": "none", "legendX": 7, "legendY": -6, "title": null, "symbolType": "stroke", "symbolSize": 2304, "symbolStrokeWidth": 2.5, "labelFontSize": 21, "labelOffset": 4, "rowPadding": -16,
        "labelExpr": "datum.label === 'a' ? 'SiO₂/SiNₓ + w/o plasma treatment' : 'SiO₂/SiNₓ + w/ plasma treatment'"}},
    "detail": {"field": "c", "type": "nominal"}
  }
},
{
  "width": 429, "height": 310,
  "title": {"text": "(b)", "orient": "bottom", "font": "Liberation Serif", "fontWeight": "normal", "fontSize": 22, "color": "black", "offset": 69, "dx": 18},
  "layer": [
    {
      "data": {"name": "b"},
      "mark": {"type": "point", "filled": true, "size": 40, "opacity": 1, "strokeWidth": 0, "clip": true},
      "encoding": {
        "x": {"field": "v", "type": "quantitative", "scale": {"domain": [-12, -4], "nice": false, "zero": false},
          "axis": {"title": "Gate voltage, VG (V)", "titleFontSize": 29, "values": [-12,-11,-10,-9,-8,-7,-6,-5,-4], "labelExpr": "datum.value % 2 === 0 ? '-' + abs(datum.value) : ''", "tickSize": {"condition": {"test": "datum.value % 2 === 0", "value": -8}, "value": -5}, "labelPadding": 12, "titlePadding": 9}},
        "y": {"field": "i", "type": "quantitative", "scale": {"type": "log", "domain": [1e-12, 1000], "nice": false},
          "axis": {"title": "Drain current, ID (A/mm)", "values": [1e-12,2e-12,3e-12,4e-12,5e-12,6e-12,7e-12,8e-12,9e-12,1e-11,2e-11,3e-11,4e-11,5e-11,6e-11,7e-11,8e-11,9e-11,1e-10,2e-10,3e-10,4e-10,5e-10,6e-10,7e-10,8e-10,9e-10,1e-9,2e-9,3e-9,4e-9,5e-9,6e-9,7e-9,8e-9,9e-9,1e-8,2e-8,3e-8,4e-8,5e-8,6e-8,7e-8,8e-8,9e-8,1e-7,2e-7,3e-7,4e-7,5e-7,6e-7,7e-7,8e-7,9e-7,1e-6,2e-6,3e-6,4e-6,5e-6,6e-6,7e-6,8e-6,9e-6,1e-5,2e-5,3e-5,4e-5,5e-5,6e-5,7e-5,8e-5,9e-5,1e-4,2e-4,3e-4,4e-4,5e-4,6e-4,7e-4,8e-4,9e-4,0.001,0.002,0.003,0.004,0.005,0.006,0.007,0.008,0.009,0.01,0.02,0.03,0.04,0.05,0.06,0.07,0.08,0.09,0.1,0.2,0.3,0.4,0.5,0.6,0.7,0.8,0.9,1,2,3,4,5,6,7,8,9,10,20,30,40,50,60,70,80,90,100,200,300,400,500,600,700,800,900,1000],
            "labelExpr": "(abs(log(datum.value)/LN10 - round(log(datum.value)/LN10)) > 0.001 || round(log(datum.value)/LN10) % 3 !== 0) ? '' : datum.value >= 999 ? '10³' : datum.value >= 0.999 ? '10⁰' : datum.value >= 9.99e-4 ? '10⁻³' : datum.value >= 9.99e-7 ? '10⁻⁶' : datum.value >= 9.99e-10 ? '10⁻⁹' : '10⁻¹²'",
            "tickSize": {"condition": [{"test": "abs(log(datum.value)/LN10 - round(log(datum.value)/LN10)) < 0.001 && round(log(datum.value)/LN10) % 3 === 0", "value": -8}, {"test": "abs(log(datum.value)/LN10 - round(log(datum.value)/LN10)) < 0.001", "value": -6}], "value": -3}, "labelPadding": 7, "titlePadding": 12}},
        "color": {"field": "s", "type": "nominal", "scale": {"domain": ["a", "b"], "range": ["#000000", "#ff0000"]},
          "legend": {"orient": "none", "legendX": 30, "legendY": 8, "title": null, "symbolSize": 45, "symbolStrokeWidth": 0, "labelFontSize": 21, "labelOffset": 19, "rowPadding": 13,
            "labelExpr": "datum.label === 'a' ? 'SiO₂/SiNₓ + w/o plasma treatment' : 'SiO₂/SiNₓ + w/ plasma treatment'"}},
        "shape": {"field": "s", "type": "nominal", "scale": {"domain": ["a", "b"], "range": ["square", "circle"]},
          "legend": {"orient": "none", "legendX": 30, "legendY": 8, "title": null, "symbolSize": 45, "symbolStrokeWidth": 0, "labelFontSize": 21, "labelOffset": 19, "rowPadding": 13,
            "labelExpr": "datum.label === 'a' ? 'SiO₂/SiNₓ + w/o plasma treatment' : 'SiO₂/SiNₓ + w/ plasma treatment'"}}
      }
    },
    {
      "data": {"name": "g"},
      "layer": [
        {
          "transform": [{"filter": "datum.s === 'a'"}],
          "mark": {"type": "point", "shape": "square", "filled": false, "color": "#333333", "strokeWidth": 1, "size": 30, "opacity": 1, "clip": true},
          "encoding": {
            "x": {"field": "v", "type": "quantitative", "scale": {"domain": [-12, -4], "nice": false, "zero": false}},
            "y": {"field": "g", "type": "quantitative", "scale": {"type": "log", "domain": [1e-12, 1000], "nice": false},
              "axis": {"orient": "right", "title": "Gate leakage, IG (A/mm)", "titleAngle": 270, "titleBaseline": "top", "values": [1e-12,2e-12,3e-12,4e-12,5e-12,6e-12,7e-12,8e-12,9e-12,1e-11,2e-11,3e-11,4e-11,5e-11,6e-11,7e-11,8e-11,9e-11,1e-10,2e-10,3e-10,4e-10,5e-10,6e-10,7e-10,8e-10,9e-10,1e-9,2e-9,3e-9,4e-9,5e-9,6e-9,7e-9,8e-9,9e-9,1e-8,2e-8,3e-8,4e-8,5e-8,6e-8,7e-8,8e-8,9e-8,1e-7,2e-7,3e-7,4e-7,5e-7,6e-7,7e-7,8e-7,9e-7,1e-6,2e-6,3e-6,4e-6,5e-6,6e-6,7e-6,8e-6,9e-6,1e-5,2e-5,3e-5,4e-5,5e-5,6e-5,7e-5,8e-5,9e-5,1e-4,2e-4,3e-4,4e-4,5e-4,6e-4,7e-4,8e-4,9e-4,0.001,0.002,0.003,0.004,0.005,0.006,0.007,0.008,0.009,0.01,0.02,0.03,0.04,0.05,0.06,0.07,0.08,0.09,0.1,0.2,0.3,0.4,0.5,0.6,0.7,0.8,0.9,1,2,3,4,5,6,7,8,9,10,20,30,40,50,60,70,80,90,100,200,300,400,500,600,700,800,900,1000],
                "labelExpr": "(abs(log(datum.value)/LN10 - round(log(datum.value)/LN10)) > 0.001 || round(log(datum.value)/LN10) % 3 !== 0) ? '' : datum.value >= 999 ? '10³' : datum.value >= 0.999 ? '10⁰' : datum.value >= 9.99e-4 ? '10⁻³' : datum.value >= 9.99e-7 ? '10⁻⁶' : datum.value >= 9.99e-10 ? '10⁻⁹' : '10⁻¹²'",
                "tickSize": {"condition": [{"test": "abs(log(datum.value)/LN10 - round(log(datum.value)/LN10)) < 0.001 && round(log(datum.value)/LN10) % 3 === 0", "value": -8}, {"test": "abs(log(datum.value)/LN10 - round(log(datum.value)/LN10)) < 0.001", "value": -6}], "value": -3}, "labelPadding": 11, "titlePadding": 21}}
          }
        },
        {
          "transform": [{"filter": "datum.s === 'b'"}],
          "mark": {"type": "point", "shape": "circle", "filled": false, "color": "#ff0000", "strokeWidth": 1.2, "size": 30, "opacity": 1, "clip": true},
          "encoding": {
            "x": {"field": "v", "type": "quantitative", "scale": {"domain": [-12, -4], "nice": false, "zero": false}},
            "y": {"field": "g", "type": "quantitative", "scale": {"type": "log", "domain": [1e-12, 1000], "nice": false}}
          }
        }
      ]
    }
  ],
  "resolve": {"scale": {"y": "independent"}}
}
]
}
